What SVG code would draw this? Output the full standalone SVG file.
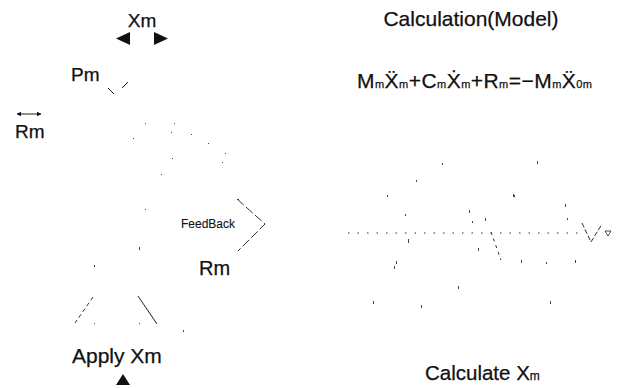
<svg xmlns="http://www.w3.org/2000/svg" width="619" height="388" viewBox="0 0 619 388">
<style>
text{font-family:"Liberation Sans","DejaVu Sans",Arial,sans-serif;fill:#111;stroke:#111;stroke-width:0.25}
.l{font-size:19px}
.sub{font-size:11px}
.ln{stroke:#222;stroke-width:1;fill:none}
.dash{stroke:#333;stroke-width:1;fill:none}
.dot{fill:#444}
</style>
<defs>
<marker id="ah" viewBox="0 0 10 10" refX="9" refY="5" markerWidth="4.5" markerHeight="4.5" orient="auto-start-reverse"><path d="M0,0 L10,5 L0,10 z" fill="#111"/></marker>
</defs>
<rect width="619" height="388" fill="#fff"/>

<g id="xm-top">
<text class="l" x="142" y="27" text-anchor="middle">Xm</text>
<polygon points="116,38.5 130,32 130,45" fill="#111"/>
<polygon points="168,38.5 154,32 154,45" fill="#111"/>
</g>

<g id="pm">
<text class="l" x="71" y="81">Pm</text>
</g>

<g id="rm-left">
<line x1="17" y1="114" x2="41" y2="114" class="ln" stroke-width="2" marker-start="url(#ah)" marker-end="url(#ah)"/>
<text class="l" x="15" y="138">Rm</text>
</g>

<g id="feedback">
<text x="181" y="228" font-size="12" style="stroke-width:0.1">FeedBack</text>
</g>

<g id="rm-right">
<text x="199" y="275" font-size="20">Rm</text>
</g>

<g id="apply">
<text x="72" y="363" font-size="21">Apply Xm</text>
<polygon points="123,374 130,385 116,385" fill="#111"/>
</g>

<g id="calc-model">
<text x="471" y="26" font-size="21" text-anchor="middle">Calculation(Model)</text>
<text x="357" y="88" font-size="21" textLength="235" lengthAdjust="spacing">M<tspan class="sub">m</tspan>Ẍ<tspan class="sub">m</tspan>+C<tspan class="sub">m</tspan>Ẋ<tspan class="sub">m</tspan>+R<tspan class="sub">m</tspan>=−M<tspan class="sub">m</tspan>Ẍ<tspan class="sub">0m</tspan></text>
</g>

<g id="calc-xm">
<text x="425" y="380" font-size="20.5">Calculate X<tspan class="sub" style="font-size:12px">m</tspan></text>
</g>

<g id="connectors">
<line x1="108" y1="88" x2="114" y2="94" class="ln"/>
<line x1="122" y1="88" x2="128" y2="82" class="ln"/>
<polyline points="237,199 265,224 238,251" class="dash" style="stroke-dasharray:9 3"/>
<line x1="93" y1="297" x2="75" y2="323" class="dash" style="stroke-dasharray:4 3"/>
<line x1="138" y1="296" x2="157" y2="324" class="ln"/>
<line x1="348" y1="233" x2="582" y2="233" class="dash" style="stroke-dasharray:1.5 8"/>
<polyline points="582,223 591,242 602,224" class="dash" style="stroke-dasharray:5 2"/>
<polygon points="605,231 611,231 608,236" fill="none" stroke="#222" stroke-width="0.8"/>
<line x1="491" y1="232" x2="501" y2="260" class="dash" style="stroke-dasharray:3 4"/>
<g class="dot">
<rect x="145" y="123" width="1" height="1"/><rect x="174" y="123" width="1" height="1"/>
<rect x="171" y="132" width="1" height="1"/><rect x="191" y="134" width="1" height="1"/>
<rect x="208" y="143" width="1" height="1"/><rect x="133" y="138" width="1" height="1"/>
<rect x="225" y="153" width="1" height="1"/><rect x="222" y="162" width="1" height="1"/>
<rect x="172" y="158" width="1" height="1"/><rect x="161" y="174" width="1" height="1"/>
<rect x="238" y="199" width="1" height="1"/><rect x="145" y="209" width="1" height="1"/>
<rect x="139" y="247" width="1" height="3"/><rect x="94" y="265" width="1" height="2"/>
<rect x="94" y="323" width="1" height="1"/><rect x="139" y="323" width="1" height="1"/>
<rect x="183" y="330" width="1" height="2"/>
<rect x="442" y="163" width="1" height="2"/><rect x="537" y="161" width="1" height="3"/>
<rect x="416" y="180" width="1" height="2"/><rect x="387" y="195" width="1" height="2"/>
<rect x="514" y="195" width="1" height="2"/>
<rect x="513" y="194" width="1" height="3"/><rect x="565" y="204" width="1" height="3"/>
<rect x="405" y="214" width="1" height="2"/><rect x="469" y="210" width="1" height="3"/>
<rect x="472" y="221" width="1" height="2"/><rect x="485" y="218" width="1" height="3"/>
<rect x="567" y="218" width="1" height="2"/><rect x="408" y="239" width="1" height="4"/>
<rect x="478" y="248" width="1" height="3"/><rect x="396" y="261" width="1" height="3"/>
<rect x="394" y="266" width="1" height="3"/><rect x="521" y="260" width="1" height="3"/>
<rect x="546" y="262" width="1" height="2"/><rect x="575" y="260" width="1" height="3"/>
<rect x="458" y="286" width="1" height="3"/><rect x="373" y="301" width="1" height="3"/>
<rect x="421" y="305" width="1" height="3"/><rect x="550" y="301" width="1" height="3"/>
</g>
</g>
</svg>
